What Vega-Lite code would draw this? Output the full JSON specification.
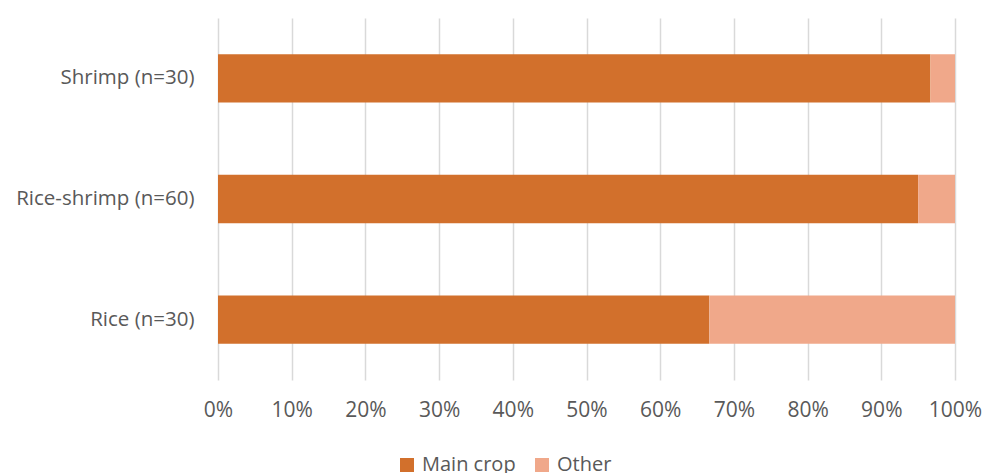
{
  "$schema": "https://vega.github.io/schema/vega-lite/v6.json",
  "width": 737,
  "height": 362,
  "autosize": {"type": "none"},
  "padding": {"left": 218, "top": 18, "right": 30, "bottom": 93},
  "background": "white",
  "data": {
    "values": [
      {"group": "Shrimp (n=30)", "type": "Main crop", "share": 0.9667},
      {"group": "Shrimp (n=30)", "type": "Other", "share": 0.0333},
      {"group": "Rice-shrimp (n=60)", "type": "Main crop", "share": 0.95},
      {"group": "Rice-shrimp (n=60)", "type": "Other", "share": 0.05},
      {"group": "Rice (n=30)", "type": "Main crop", "share": 0.6667},
      {"group": "Rice (n=30)", "type": "Other", "share": 0.3333}
    ]
  },
  "mark": {"type": "bar"},
  "encoding": {
    "y": {
      "field": "group",
      "type": "nominal",
      "sort": ["Shrimp (n=30)", "Rice-shrimp (n=60)", "Rice (n=30)"],
      "scale": {"paddingInner": 0.6, "paddingOuter": 0.3},
      "axis": {"title": null, "ticks": false, "domain": false, "labelPadding": 24, "labelLimit": 300, "labelFontSize": 20.5, "labelFont": "Open Sans", "labelColor": "#595959"}
    },
    "x": {
      "field": "share",
      "type": "quantitative",
      "stack": "zero",
      "scale": {"domain": [0, 1], "nice": false},
      "axis": {"title": null, "format": ".0%", "values": [0,0.1,0.2,0.3,0.4,0.5,0.6,0.7,0.8,0.9,1], "ticks": false, "domain": false, "grid": true, "gridColor": "#D9D9D9", "gridWidth": 1.5, "labelFlush": false, "labelPadding": 19, "labelFontSize": 21, "labelFont": "Open Sans", "labelColor": "#595959"}
    },
    "color": {
      "field": "type",
      "type": "nominal",
      "scale": {"domain": ["Main crop", "Other"], "range": ["#D2702C", "#F0A88A"]},
      "legend": {"title": null, "orient": "none", "direction": "horizontal", "legendX": 179, "legendY": 437, "symbolType": "square", "symbolSize": 196, "symbolStrokeWidth": 0, "labelFontSize": 20, "labelFont": "Open Sans", "labelColor": "#595959", "columnPadding": 16, "labelOffset": 5}
    }
  },
  "config": {"view": {"stroke": null}}
}
